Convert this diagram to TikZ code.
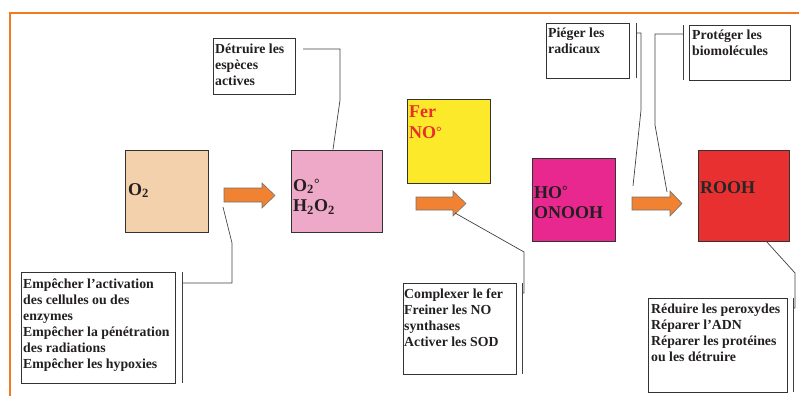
\documentclass[tikz,border=0pt]{standalone}
\usepackage{fontspec}
\setmainfont{Liberation Serif}
\definecolor{frameorange}{HTML}{F47A20}
\definecolor{arroworange}{HTML}{F08232}
\definecolor{peach}{HTML}{F3D1AC}
\definecolor{pinkbox}{HTML}{EFA9C8}
\definecolor{yellowbox}{HTML}{FCE92A}
\definecolor{magentabox}{HTML}{E8288E}
\definecolor{redbox}{HTML}{E83030}
\definecolor{ink}{HTML}{231F20}
\definecolor{ferred}{HTML}{E8302A}
\newcommand{\degsym}{\raisebox{2.5pt}{\fontsize{14}{14}\selectfont °}}
\begin{document}
\begin{tikzpicture}[x=1pt,y=-1pt,
  box/.style={draw=black!80, line width=0.8pt, rectangle, anchor=north west, inner sep=0pt},
  lbl/.style={anchor=north west, inner sep=0pt, align=left, text=ink,
    font=\fontsize{13.8}{16}\selectfont\bfseries, execute at begin node=\rule{0pt}{12pt}},
  big/.style={anchor=north west, inner sep=0pt, align=left, text=ink,
    font=\fontsize{18}{20.5}\selectfont\bfseries, execute at begin node=\rule{0pt}{16pt}},
  blockarrow/.style={fill=arroworange, draw=black!55, line width=0.6pt},
  callout/.style={draw=black!75, line width=0.7pt},
  framestyle/.style={draw=frameorange, line width=2.6pt}]
\useasboundingbox (0,0) rectangle (799,396);
% frame
\draw[framestyle] (799,13) -- (10,13) -- (10,396);
% coloured boxes
\node[box, fill=peach, minimum width=83pt, minimum height=82pt] (o2) at (125,150) {};
\node[box, fill=pinkbox, minimum width=91pt, minimum height=82pt] (o2r) at (291,150) {};
\node[box, fill=yellowbox, minimum width=83pt, minimum height=84pt] (fer) at (407,99) {};
\node[box, fill=magentabox, minimum width=83pt, minimum height=83pt] (ho) at (532,158) {};
\node[box, fill=redbox, minimum width=91pt, minimum height=91pt] (rooh) at (698,150) {};
% labels of coloured boxes
\node[big] (o2t) at (128,179) {O\textsubscript{2}};
\node[big] (o2rt) at (293,179) {O\textsubscript{2}\degsym\\H\textsubscript{2}O\textsubscript{2}};
\node[big, text=ferred, font=\fontsize{18}{21}\selectfont\bfseries] (fert) at (409,106) {Fer\\NO\degsym};
\node[big] (hot) at (534,186) {HO\degsym\\ONOOH};
\node[big, text=black!85] (rooht) at (700,177) {ROOH};
% text boxes
\node[box, minimum width=82pt, minimum height=56pt] (detr) at (213,38) {};
\node[box, minimum width=83pt, minimum height=55pt] (pieg) at (546,23) {};
\node[box, minimum width=101pt, minimum height=55pt] (prot) at (689,25) {};
\node[box, minimum width=154pt, minimum height=111pt] (empe) at (21,272) {};
\node[box, minimum width=113pt, minimum height=91pt] (comp) at (403,283) {};
\node[box, minimum width=139pt, minimum height=94pt] (redu) at (648,298) {};
\node[lbl] (detrt) at (215,44) {Détruire les\\espèces\\actives};
\node[lbl] (piegt) at (548,27.5) {Piéger les\\radicaux};
\node[lbl] (prott) at (692,29.7) {Protéger les\\biomolécules};
\node[lbl] (empet) at (23,278.7) {Empêcher l’activation\\des cellules ou des\\enzymes\\Empêcher la pénétration\\des radiations\\Empêcher les hypoxies};
\node[lbl] (compt) at (404,289) {Complexer le fer\\Freiner les NO\\synthases\\Activer les SOD};
\node[lbl] (redut) at (651,304) {Réduire les peroxydes\\Réparer l’ADN\\Réparer les protéines\\ou les détruire};
% block arrows
\draw[blockarrow] (224,188) -- (262,188) -- (262,183) -- (275,195.5) -- (262,208) -- (262,202) -- (224,202) -- cycle;
\draw[blockarrow] (416,197) -- (453,197) -- (453,191) -- (466,203.5) -- (453,216) -- (453,210) -- (416,210) -- cycle;
\draw[blockarrow] (632,197) -- (670,197) -- (670,191) -- (682,203.5) -- (670,216) -- (670,210) -- (632,210) -- cycle;
% brackets
\coordinate (piegbt) at (636,23); \coordinate (piegbb) at (636,78);
\coordinate (protbt) at (683,25); \coordinate (protbb) at (683,80);
\coordinate (empebt) at (182,272); \coordinate (empebb) at (182,383);
\coordinate (compbt) at (522,283); \coordinate (compbb) at (522,374);
\coordinate (redubt) at (793,298); \coordinate (redubb) at (793,392);
\draw[callout] (piegbt) -- (piegbb);
\draw[callout] (protbt) -- (protbb);
\draw[callout] (empebt) -- (empebb);
\draw[callout] (compbt) -- (compbb);
\draw[callout] (redubt) -- (redubb);
% callout lines
\coordinate (detrs) at (303,49); \coordinate (detre) at (333,149.5);
\draw[callout] (detrs) -- (340,49) -- (340,100) -- (detre);
\coordinate (piegs) at (636,33); \coordinate (piege) at (633,186);
\draw[callout] (piegs) -- (641,33) -- (641,110) -- (piege);
\coordinate (prots) at (683,34); \coordinate (prote) at (667,192);
\draw[callout] (prots) -- (655,34) -- (655,125) -- (prote);
\coordinate (empes) at (182,283); \coordinate (empee) at (223,207);
\draw[callout] (empes) -- (232,283) -- (232,243) -- (empee);
\coordinate (comps) at (522,293); \coordinate (compe) at (455,213);
\draw[callout] (comps) -- (524,293) -- (524,252) -- (compe);
\coordinate (redus) at (793,308); \coordinate (redue) at (766,241);
\draw[callout] (redus) -- (795,308) -- (795,273) -- (redue);
\end{tikzpicture}
\end{document}
